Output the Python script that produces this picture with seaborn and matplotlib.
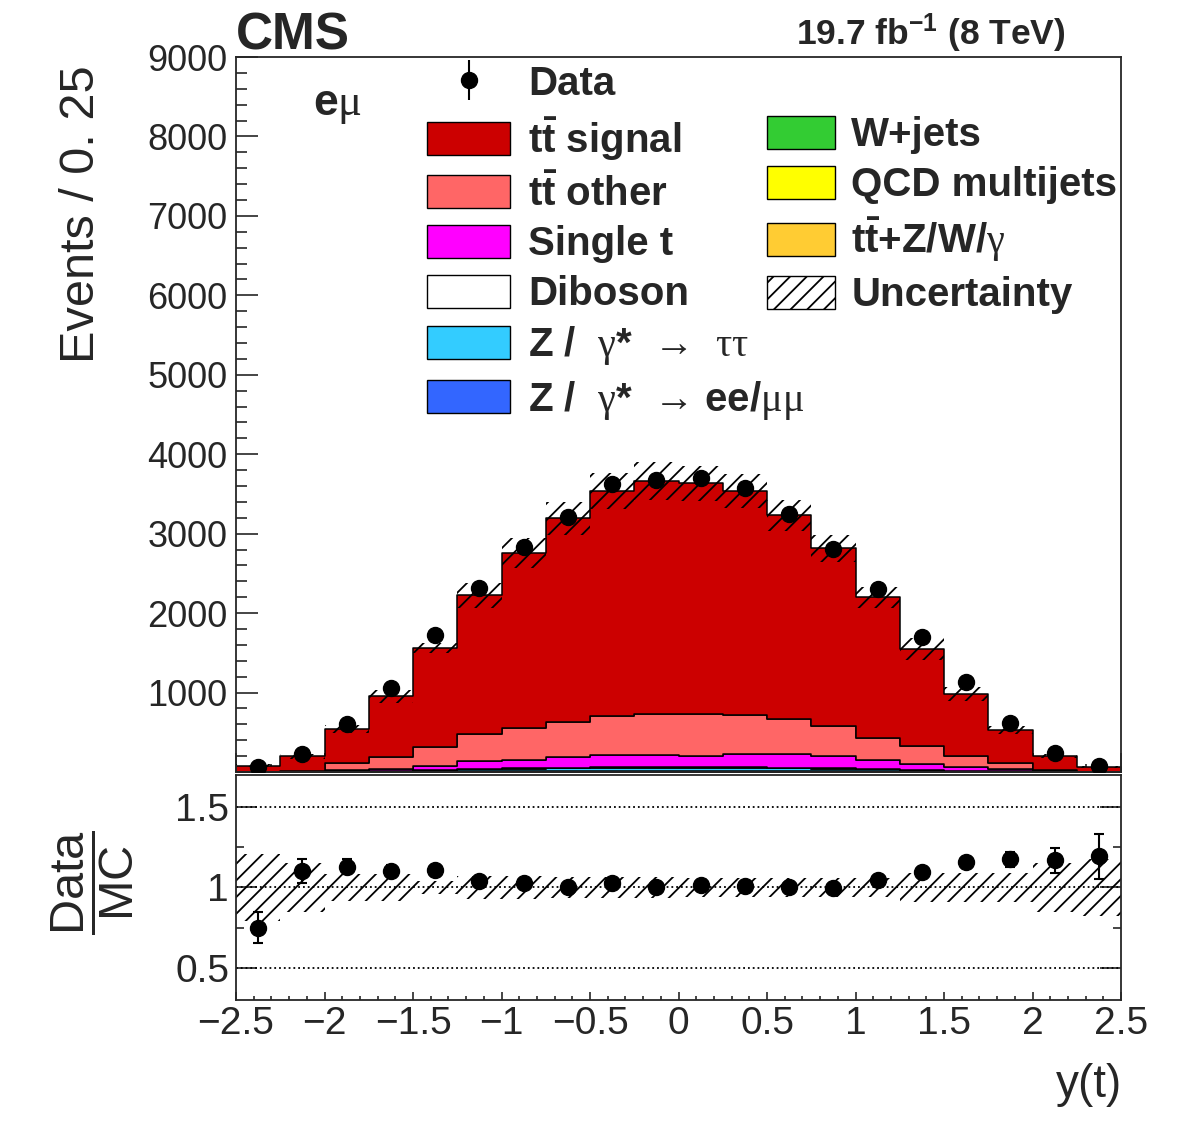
import numpy as np
import pandas as pd
import seaborn as sns
import matplotlib.pyplot as plt
from matplotlib.patches import Patch
from matplotlib.ticker import MultipleLocator, FixedLocator, FuncFormatter

# y(t) binning: 20 bins of width 0.25
edges = np.linspace(-2.5, 2.5, 21)
centers = 0.5 * (edges[:-1] + edges[1:])

# events per bin
data = [60, 221, 610, 1056, 1725, 2315, 2830, 3212, 3630, 3680,
        3695, 3570, 3250, 2812, 2300, 1695, 1135, 620, 235, 74]
tt_signal = [75, 185, 425, 761, 1248, 1742, 2195, 2560, 2825, 2924,
             2903, 2812, 2560, 2242, 1766, 1222, 782, 409, 181, 57]
tt_other = [2, 7, 93, 155, 232, 344, 403, 440, 502, 526,
            527, 490, 440, 377, 284, 225, 132, 79, 8, 2]
single_t = [2, 4, 12, 22, 52, 101, 108, 139, 147, 148,
            143, 172, 177, 150, 111, 72, 49, 30, 8, 2]
diboson = [0, 1, 2, 3, 5, 7, 9, 10, 11, 11, 11, 11, 10, 9, 7, 5, 3, 2, 1, 0]
z_tautau = [1, 2, 5, 10, 16, 22, 28, 32, 34, 35, 35, 34, 32, 28, 22, 16, 10, 5, 2, 1]
z_ll = [0, 1, 1, 2, 3, 4, 5, 5, 6, 6, 6, 6, 5, 5, 4, 3, 2, 1, 1, 0]
wjets = [0, 0, 1, 1, 1, 2, 2, 3, 3, 3, 3, 3, 3, 2, 2, 1, 1, 1, 0, 0]
qcd = [0, 0, 0, 1, 1, 1, 1, 2, 2, 2, 2, 2, 2, 1, 1, 1, 1, 0, 0, 0]
ttv = [0, 0, 1, 1, 2, 3, 4, 4, 5, 5, 5, 5, 4, 4, 3, 2, 1, 1, 0, 0]

# relative uncertainty of the prediction per bin
rel_unc = [0.21, 0.15, 0.085, 0.085, 0.04, 0.07, 0.07, 0.065, 0.065, 0.065,
           0.06, 0.06, 0.06, 0.06, 0.06, 0.09, 0.09, 0.09, 0.15, 0.18]

# stack order, top first (same as the legend)
procs = ['tt signal', 'tt other', 'Single t', 'Diboson', 'Z tautau', 'Z ll',
         'W+jets', 'QCD multijets', 'ttV']
values = [tt_signal, tt_other, single_t, diboson, z_tautau, z_ll, wjets, qcd, ttv]
colors = ['#cc0000', '#ff6666', '#ff00ff', '#ffffff', '#33ccff', '#3366ff',
          '#33cc33', '#ffff00', '#ffcc33']
labels = [r'$\mathbf{t\bar{t}}$ signal', r'$\mathbf{t\bar{t}}$ other', 'Single t', 'Diboson',
          r'Z /  $\mathrm{\gamma}$*  →  $\mathrm{\tau\tau}$',
          r'Z /  $\mathrm{\gamma}$*  → ee/$\mathrm{\mu\mu}$',
          'W+jets', 'QCD multijets', r'$\mathbf{t\bar{t}}$+Z/W/$\mathrm{\gamma}$']

sns.set_style('ticks')
plt.rcParams['font.family'] = ['Liberation Sans', 'DejaVu Sans']
plt.rcParams['mathtext.fontset'] = 'custom'
plt.rcParams['mathtext.rm'] = 'Liberation Serif'
plt.rcParams['mathtext.sf'] = 'Liberation Sans'
plt.rcParams['mathtext.bf'] = 'Liberation Sans:bold'
plt.rcParams['mathtext.it'] = 'Liberation Sans:italic'
plt.rcParams['hatch.linewidth'] = 1.3

df = pd.DataFrame({
    'y': np.tile(centers, len(procs)),
    'events': np.concatenate(values),
    'process': np.repeat(procs, len(centers)),
})

fig = plt.figure(figsize=(11.82, 11.38), dpi=100)
ax = fig.add_axes([0.1997, 0.3216, 0.7487, 0.6283])
rax = fig.add_axes([0.1997, 0.1213, 0.7487, 0.1977])

sns.histplot(data=df, x='y', weights='events', hue='process', hue_order=procs,
             palette=dict(zip(procs, colors)), multiple='stack', bins=list(edges),
             element='step', alpha=1, edgecolor='black', linewidth=1.1,
             legend=False, ax=ax)

mc = np.sum(np.array(values, dtype=float), axis=0)
unc = np.array(rel_unc)
data = np.array(data, dtype=float)

# uncertainty band on the stack
lo = mc * (1 - unc)
hi = mc * (1 + unc)
ax.fill_between(edges, np.append(lo, lo[-1]), np.append(hi, hi[-1]), step='post',
                facecolor='none', edgecolor='black', hatch='//', linewidth=0, zorder=3)

dat = ax.errorbar(centers, data, yerr=np.sqrt(data), fmt='o', color='black',
                  markersize=11.5, elinewidth=1.5, capsize=0, zorder=5)

ax.set_xlim(-2.5, 2.5)
ax.set_ylim(0, 9000)
ax.set_xlabel('')
ax.set_ylabel('')
ax.yaxis.set_major_locator(FixedLocator(np.arange(1000, 9001, 1000)))
ax.yaxis.set_minor_locator(MultipleLocator(200))
ax.xaxis.set_major_locator(MultipleLocator(0.5))
ax.xaxis.set_minor_locator(MultipleLocator(0.1))
ax.tick_params(which='both', direction='in', top=False, right=False, labelbottom=False,
               labelsize=26, width=1.2)
ax.tick_params(axis='y', which='major', length=16, pad=6)
ax.tick_params(axis='y', which='minor', length=8)
ax.tick_params(axis='x', which='major', length=14)
ax.tick_params(axis='x', which='minor', length=6)
ax.yaxis.set_major_formatter(FuncFormatter(lambda v, p: '%g' % v))

# legends
leg_font = {'size': 29, 'weight': 'bold'}
left_handles = [dat] + [Patch(facecolor=c, edgecolor='black', linewidth=1)
                        for c in colors[:6]]
left_labels = ['Data'] + labels[:6]
leg1 = ax.legend(left_handles, left_labels, loc='upper left',
                 bbox_to_anchor=(0.2158, 0.989), frameon=False, borderpad=0,
                 borderaxespad=0, handlelength=2.06, handleheight=0.89,
                 handletextpad=0.45, labelspacing=0.28, prop=leg_font)
ax.add_artist(leg1)
right_handles = [Patch(facecolor=c, edgecolor='black', linewidth=1) for c in colors[6:]]
right_handles.append(Patch(facecolor='white', edgecolor='black', hatch='//', linewidth=1))
right_labels = labels[6:] + ['Uncertainty']
ax.legend(right_handles, right_labels, loc='upper left',
          bbox_to_anchor=(0.600, 0.9175), frameon=False, borderpad=0,
          borderaxespad=0, handlelength=1.69, handleheight=0.89,
          handletextpad=0.40, labelspacing=0.28, prop=leg_font)

ax.text(0.087, 0.919, r'e$\mathrm{\mu}$', transform=ax.transAxes, fontsize=32,
        fontweight='bold', va='baseline', ha='left')

# ratio panel
ratio = data / mc
rerr = np.sqrt(data) / mc
rax.fill_between(edges, np.append(1 - unc, 1 - unc[-1]), np.append(1 + unc, 1 + unc[-1]),
                 step='post', facecolor='none', edgecolor='black', hatch='//',
                 linewidth=0, zorder=2)
for yv in [0.5, 1.0, 1.5]:
    rax.axhline(yv, color='black', linestyle=':', linewidth=1.3, zorder=1)
rax.errorbar(centers, ratio, yerr=rerr, fmt='o', color='black', markersize=11.5,
             elinewidth=1.5, capsize=3.5, capthick=1.5, zorder=5)

rax.set_xlim(-2.5, 2.5)
rax.set_ylim(0.3, 1.7)
rax.yaxis.set_major_locator(FixedLocator([0.5, 1.0, 1.5]))
rax.yaxis.set_minor_locator(MultipleLocator(0.25))
rax.xaxis.set_major_locator(MultipleLocator(0.5))
rax.xaxis.set_minor_locator(MultipleLocator(0.1))
fmt = FuncFormatter(lambda v, p: ('%g' % v).replace('-', '\u2212'))
rax.xaxis.set_major_formatter(fmt)
rax.yaxis.set_major_formatter(fmt)
rax.tick_params(which='both', direction='in', top=False, right=True,
                labelsize=28, width=1.2)
rax.tick_params(axis='y', which='major', length=15, pad=5)
rax.tick_params(axis='y', which='minor', length=6)
rax.tick_params(axis='x', which='major', length=6, pad=4)
rax.tick_params(axis='x', which='minor', length=3)

for a in (ax, rax):
    for s in a.spines.values():
        s.set_linewidth(1.3)
        s.set_visible(True)

# titles and axis labels
fig.text(236 / 1182, 1 - 50 / 1138, 'CMS', fontsize=37, fontweight='bold',
         ha='left', va='baseline')
fig.text(1066 / 1182, 1 - 45 / 1138, r'19.7 fb$^{\mathbf{-1}}$ (8 TeV)', fontsize=25.5,
         fontweight='bold', ha='right', va='baseline')
fig.text(82 / 1182, 1 - 65 / 1138, 'Events / 0. 25', fontsize=35, rotation=90,
         ha='center', va='top')
fig.text(93 / 1182, 1 - 883 / 1138, r'$\dfrac{\mathsf{Data}}{\mathsf{MC}}$', fontsize=35,
         rotation=90, ha='center', va='center')
fig.text(1122 / 1182, 1 - 1085 / 1138, 'y(t)', fontsize=33, ha='right', va='center')

fig.savefig('out.png', dpi=100)
